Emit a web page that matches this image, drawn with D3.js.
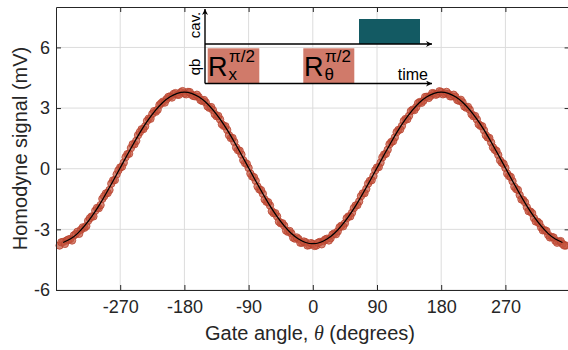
<!DOCTYPE html>
<html>
<head>
<meta charset="utf-8">
<script src="https://cdn.jsdelivr.net/npm/d3@7"></script>
<style>
  body { margin: 0; background: #fff; }
  svg { display: block; font-family: "Liberation Sans", Arial, sans-serif; }
</style>
</head>
<body>
<svg id="chart" width="568" height="350"></svg>
<script>
// measured gate angles (degrees), run 1: 5 degree steps from -355
const angleStart = -355, angleStep = 5;
const signal = [
  -3.80, -3.62, -3.55, -3.48, -3.30, -3.12, -3.02, -2.92, -2.58, -2.36,
  -2.08, -1.95, -1.49, -1.22, -1.05, -0.58, -0.28, 0.06, 0.30, 0.72,
  1.02, 1.21, 1.66, 1.95, 2.10, 2.48, 2.71, 2.82, 3.15, 3.32,
  3.44, 3.58, 3.70, 3.66, 3.78, 3.72, 3.80, 3.66, 3.58, 3.55,
  3.35, 3.28, 3.01, 2.90, 2.60, 2.44, 2.12, 1.92, 1.52, 1.32,
  0.92, 0.70, 0.28, 0.04, -0.38, -0.60, -1.02, -1.24, -1.63, -1.82,
  -2.20, -2.36, -2.70, -2.82, -3.12, -3.20, -3.46, -3.48, -3.66, -3.64,
  -3.78, -3.72, -3.80, -3.62, -3.58, -3.46, -3.44, -3.20, -3.10, -2.82,
  -2.70, -2.36, -2.18, -1.82, -1.62, -1.22, -1.00, -0.60, -0.36, 0.06,
  0.30, 0.70, 0.94, 1.32, 1.55, 1.92, 2.12, 2.46, 2.62, 2.92,
  3.04, 3.30, 3.36, 3.56, 3.60, 3.72, 3.70, 3.80, 3.72, 3.70,
  3.58, 3.56, 3.36, 3.28, 3.02, 2.92, 2.60, 2.44, 2.12, 1.90,
  1.55, 1.30, 0.94, 0.68, 0.30, 0.04, -0.36, -0.62, -1.00, -1.30,
  -1.55, -1.90, -2.12, -2.44, -2.62, -2.90, -3.04, -3.28, -3.38, -3.56,
  -3.60, -3.72, -3.80
];

// run 2: 5 degree steps from -352.5
const angleStart2 = -352.5;
const signal2 = [
  -3.64, -3.72, -3.50, -3.55, -3.24, -3.22, -2.90, -2.84, -2.45, -2.36,
  -1.94, -1.80, -1.36, -1.20, -0.74, -0.56, -0.08, 0.10, 0.57, 0.74,
  1.21, 1.38, 1.81, 1.96, 2.36, 2.47, 2.85, 2.92, 3.24, 3.27,
  3.55, 3.52, 3.74, 3.66, 3.84,
  3.68, 3.79, 3.60, 3.66, 3.40, 3.40, 3.08, 3.05, 2.70, 2.61,
  2.20, 2.10, 1.66, 1.52, 1.05, 0.89, 0.42, 0.24, -0.24, -0.42,
  -0.88, -1.06, -1.52, -1.66, -2.10, -2.20, -2.62, -2.70, -3.06, -3.08,
  -3.41, -3.40, -3.66, -3.60, -3.80, -3.68,
  -3.82, -3.66, -3.74, -3.50, -3.55, -3.26, -3.24, -2.90, -2.85, -2.45,
  -2.36, -1.95, -1.80, -1.36, -1.21, -0.74, -0.57, -0.08, 0.08, 0.56,
  0.74, 1.21, 1.36, 1.81, 1.94, 2.36, 2.45, 2.85, 2.90, 3.24,
  3.26, 3.55, 3.50, 3.74, 3.66, 3.83,
  3.68, 3.80, 3.58, 3.66, 3.40, 3.41, 3.08, 3.06, 2.70, 2.61,
  2.20, 2.10, 1.66, 1.52, 1.06, 0.88, 0.42, 0.24, -0.24, -0.41,
  -0.89, -1.05, -1.52, -1.66, -2.10, -2.20, -2.61, -2.70, -3.05, -3.08,
  -3.40, -3.40, -3.66, -3.58, -3.80
];

// fitted curve, 10 degree steps from -350
const fitStart = -350, fitStep = 10;
const fit = [
  -3.65, -3.48, -3.21, -2.83, -2.37, -1.84, -1.24, -0.61, 0.04, 0.69,
  1.32, 1.92, 2.45, 2.91, 3.29, 3.56, 3.73, 3.79, 3.73, 3.56,
  3.29, 2.91, 2.45, 1.92, 1.32, 0.69, 0.04, -0.61, -1.24, -1.84,
  -2.37, -2.83, -3.21, -3.48, -3.65, -3.71, -3.65, -3.48, -3.21, -2.83,
  -2.37, -1.84, -1.24, -0.61, 0.04, 0.69, 1.32, 1.92, 2.45, 2.91,
  3.29, 3.56, 3.73, 3.79, 3.73, 3.56, 3.29, 2.91, 2.45, 1.92,
  1.32, 0.69, 0.04, -0.61, -1.24, -1.84, -2.37, -2.83, -3.21, -3.48,
  -3.65
];

const xTicks = [-270, -180, -90, 0, 90, 180, 270];
const yTicks = [-6, -3, 0, 3, 6];

(function() {
  const svg = d3.select("#chart");
  const mLeft = 56, mRight = 569.6, mTop = 7, mBottom = 290;

  const x = d3.scaleLinear().domain([-360, 360]).range([mLeft, mRight]);
  const y = d3.scaleLinear().domain([-6, 8]).range([mBottom, mTop]);

  // grid
  svg.append("g").selectAll("line").data(xTicks).join("line")
    .attr("x1", d => x(d)).attr("x2", d => x(d))
    .attr("y1", mTop).attr("y2", mBottom)
    .attr("stroke", "#dcdcdc").attr("stroke-width", 1);
  svg.append("g").selectAll("line").data(yTicks).join("line")
    .attr("x1", mLeft).attr("x2", mRight)
    .attr("y1", d => y(d)).attr("y2", d => y(d))
    .attr("stroke", "#dcdcdc").attr("stroke-width", 1);

  // data points
  const pts = signal.map((v, i) => [angleStart + i * angleStep, v])
    .concat(signal2.map((v, i) => [angleStart2 + i * angleStep, v]));
  svg.append("g").selectAll("circle").data(pts).join("circle")
    .attr("cx", d => x(d[0])).attr("cy", d => y(d[1]))
    .attr("r", 3.7)
    .attr("fill", "#c4523c").attr("fill-opacity", 0.7)
    .attr("stroke", "#b8432e").attr("stroke-width", 0.8);

  // fit line
  const fitPts = fit.map((v, i) => [fitStart + i * fitStep, v]);
  svg.append("path").datum(fitPts)
    .attr("fill", "none").attr("stroke", "#000").attr("stroke-width", 1.3)
    .attr("d", d3.line().x(d => x(d[0])).y(d => y(d[1])).curve(d3.curveNatural));

  // axes (ticks inside, box)
  const fmt = d => String(d);
  const xAxis = svg.append("g").attr("transform", `translate(0,${mBottom})`)
    .call(d3.axisBottom(x).tickValues(xTicks).tickFormat(fmt).tickSizeInner(-5).tickSizeOuter(0).tickPadding(10));
  const yAxis = svg.append("g").attr("transform", `translate(${mLeft},0)`)
    .call(d3.axisLeft(y).tickValues(yTicks).tickFormat(fmt).tickSizeInner(-5).tickSizeOuter(0).tickPadding(6));
  svg.append("g").attr("transform", `translate(0,${mTop})`)
    .call(d3.axisTop(x).tickValues(xTicks).tickSizeInner(-5).tickSizeOuter(0).tickFormat(""));
  svg.append("g").attr("transform", `translate(${mRight},0)`)
    .call(d3.axisRight(y).tickValues(yTicks).tickSizeInner(-5).tickSizeOuter(0).tickFormat(""));
  svg.selectAll(".domain").attr("stroke", "#262626");
  svg.selectAll(".tick line").attr("stroke", "#262626");
  [xAxis, yAxis].forEach(a => a.selectAll("text")
    .style("font-size", "18px").style("font-family", "Liberation Sans, Arial, sans-serif").attr("fill", "#262626"));

  // axis labels
  const xl = svg.append("text").attr("x", (mLeft + 568) / 2 - 2).attr("y", 340)
    .attr("text-anchor", "middle").style("font-size", "20px").attr("fill", "#262626");
  xl.append("tspan").text("Gate angle, ");
  xl.append("tspan").text("θ").style("font-style", "italic").style("font-family", "Liberation Serif, serif");
  xl.append("tspan").text(" (degrees)");

  svg.append("text").attr("transform", `translate(27,${(mTop + mBottom) / 2}) rotate(-90)`)
    .attr("text-anchor", "middle").style("font-size", "20px").attr("fill", "#262626")
    .text("Homodyne signal (mV)");

  // pulse sequence inset
  const inset = svg.append("g");
  inset.append("rect").attr("x", 359).attr("y", 19).attr("width", 61).attr("height", 25).attr("fill", "#135a63");
  inset.append("rect").attr("x", 207.7).attr("y", 48.3).attr("width", 51.6).attr("height", 35).attr("fill", "#d07a6a");
  inset.append("rect").attr("x", 303.3).attr("y", 48.3).attr("width", 51).attr("height", 35).attr("fill", "#d07a6a");

  const defs = svg.append("defs");
  defs.append("marker").attr("id", "arr").attr("viewBox", "0 0 10 10")
    .attr("refX", 10).attr("refY", 5).attr("markerWidth", 9).attr("markerHeight", 6)
    .attr("markerUnits", "userSpaceOnUse").attr("orient", "auto")
    .append("path").attr("d", "M0,0 L10,5 L0,10 L3,5 Z").attr("fill", "#000");

  inset.append("line").attr("x1", 205).attr("y1", 83.5).attr("x2", 205).attr("y2", 9)
    .attr("stroke", "#000").attr("stroke-width", 1.4).attr("marker-end", "url(#arr)");
  inset.append("line").attr("x1", 205).attr("y1", 44).attr("x2", 432).attr("y2", 44)
    .attr("stroke", "#000").attr("stroke-width", 1.4).attr("marker-end", "url(#arr)");
  inset.append("line").attr("x1", 205).attr("y1", 83.5).attr("x2", 432).attr("y2", 83.5)
    .attr("stroke", "#000").attr("stroke-width", 1.4).attr("marker-end", "url(#arr)");

  inset.append("text").attr("transform", "translate(200,25) rotate(-90)")
    .attr("text-anchor", "middle").style("font-size", "15px").text("cav.");
  inset.append("text").attr("transform", "translate(200,67) rotate(-90)")
    .attr("text-anchor", "middle").style("font-size", "15px").text("qb");
  inset.append("text").attr("x", 428).attr("y", 80).attr("text-anchor", "end")
    .style("font-size", "16px").text("time");

  function gateLabel(x0, sub) {
    const t = inset.append("text").attr("x", x0).attr("y", 76).style("font-size", "27px");
    t.append("tspan").text("R");
    t.append("tspan").attr("dx", 1).attr("dy", 4).style("font-size", "17px").text(sub);
    t.append("tspan").attr("x", x0 + 21).attr("y", 62).style("font-size", "17px").text("π/2");
  }
  gateLabel(208, "x");
  gateLabel(304, "θ");
})();
</script>
</body>
</html>
